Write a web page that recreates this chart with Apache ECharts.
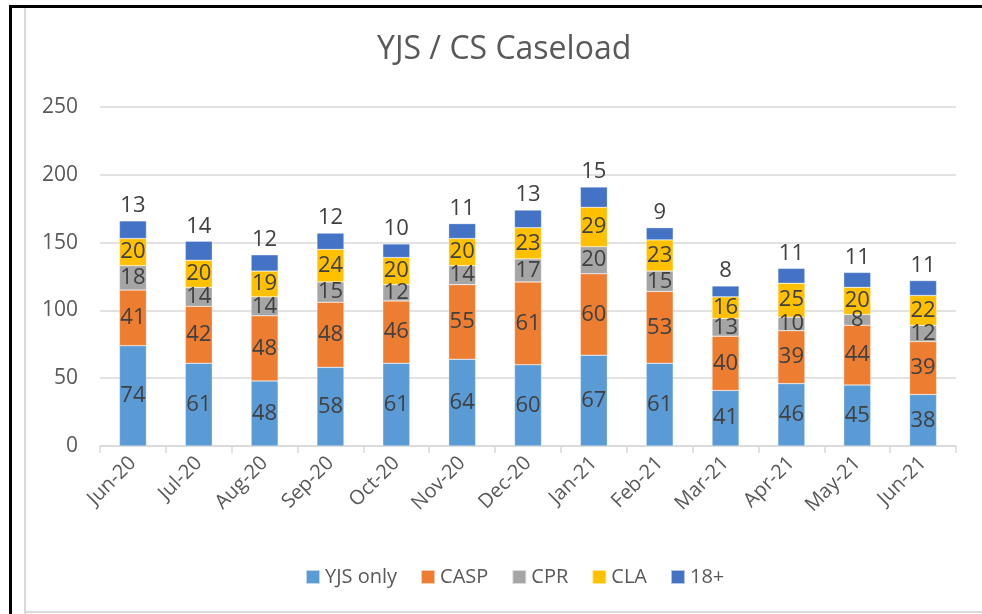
<!DOCTYPE html>
<html>
<head>
<meta charset="utf-8">
<script src="https://cdn.jsdelivr.net/npm/echarts@6/dist/echarts.min.js"></script>
<style>
  html, body { margin: 0; padding: 0; background: #fff; }
  #chart { width: 982px; height: 614px; }
</style>
</head>
<body>
<div id="chart"></div>
<script>
// Months on the x axis
const months = ['Jun-20', 'Jul-20', 'Aug-20', 'Sep-20', 'Oct-20', 'Nov-20', 'Dec-20',
    'Jan-21', 'Feb-21', 'Mar-21', 'Apr-21', 'May-21', 'Jun-21'];

// Caseload counts per group (stacked bottom to top)
const yjsOnly = [74, 61, 48, 58, 61, 64, 60, 67, 61, 41, 46, 45, 38];
const casp    = [41, 42, 48, 48, 46, 55, 61, 60, 53, 40, 39, 44, 39];
const cpr     = [18, 14, 14, 15, 12, 14, 17, 20, 15, 13, 10, 8, 12];
const cla     = [20, 20, 19, 24, 20, 20, 23, 29, 23, 16, 25, 20, 22];
const over18  = [13, 14, 12, 12, 10, 11, 13, 15, 9, 8, 11, 11, 11];

const FONT = '"Open Sans", sans-serif';
const TXT = '#404040';
const AXIS_TXT = '#595959';
const GRID_CLR = '#d9d9d9';

const seriesDefs = [
    { name: 'YJS only', data: yjsOnly, color: '#5B9BD5' },
    { name: 'CASP',     data: casp,    color: '#ED7D31' },
    { name: 'CPR',      data: cpr,     color: '#A5A5A5' },
    { name: 'CLA',      data: cla,     color: '#FFC000' },
    { name: '18+',      data: over18,  color: '#4472C4', top: true }
];

const chart = echarts.init(document.getElementById('chart'));

chart.setOption({
    animation: false,
    textStyle: { fontFamily: FONT },
    title: {
        text: 'YJS / CS Caseload', left: 372, top: 29,
        textStyle: { fontFamily: FONT, fontSize: 32, fontWeight: 'normal', color: AXIS_TXT }
    },
    legend: {
        bottom: 22, left: 300, itemWidth: 14, itemHeight: 14, itemGap: 23,
        icon: 'rect',
        textStyle: { fontFamily: FONT, fontSize: 20, color: AXIS_TXT, padding: [0, 0, 0, 0] }
    },
    grid: { left: 100, right: 26, top: 107, bottom: 168, containLabel: false },
    xAxis: {
        type: 'category', data: months,
        axisLine: { lineStyle: { color: GRID_CLR, width: 1.5 } },
        axisTick: { show: true, length: 7, lineStyle: { color: GRID_CLR, width: 1.5 } },
        axisLabel: { rotate: 45, color: AXIS_TXT, fontSize: 20, fontFamily: FONT, margin: 14 }
    },
    yAxis: {
        type: 'value', min: 0, max: 250, interval: 50,
        axisLine: { show: false }, axisTick: { show: false },
        splitLine: { lineStyle: { color: GRID_CLR, width: 1.5 } },
        axisLabel: { color: AXIS_TXT, fontSize: 21, fontFamily: FONT, margin: 22 }
    },
    graphic: [
        { type: 'rect', shape: { x: 9, y: 5, width: 973, height: 3 }, style: { fill: '#000' }, silent: true },
        { type: 'rect', shape: { x: 9, y: 5, width: 3, height: 609 }, style: { fill: '#000' }, silent: true },
        { type: 'rect', shape: { x: 24, y: 8, width: 2, height: 606 }, style: { fill: GRID_CLR }, silent: true },
        { type: 'rect', shape: { x: 24, y: 611, width: 958, height: 2 }, style: { fill: GRID_CLR }, silent: true }
    ],
    series: seriesDefs.map(s => ({
        name: s.name, type: 'bar', stack: 'total', data: s.data, barWidth: '41%',
        itemStyle: { color: s.color, borderColor: 'rgba(255,255,255,0.6)', borderWidth: 0.5 },
        label: {
            show: true, position: s.top ? 'top' : 'inside', distance: 4,
            color: TXT, fontSize: 22, fontFamily: FONT
        }
    }))
});
</script>
</body>
</html>
